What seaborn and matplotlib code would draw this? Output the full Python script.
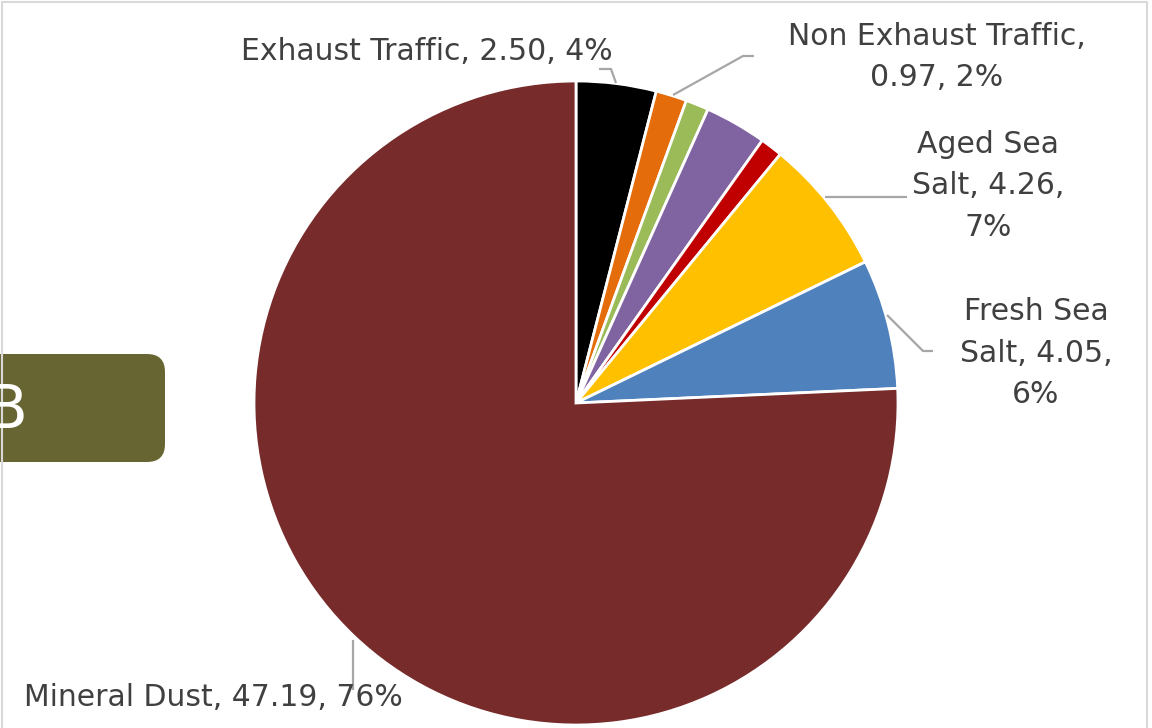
import matplotlib
matplotlib.use("Agg")
import matplotlib.pyplot as plt
import seaborn as sns
from matplotlib.patches import FancyBboxPatch

# Source contributions (mass, µg/m3)
sources = ["Exhaust Traffic", "Non Exhaust Traffic", "Road Dust",
           "Secondary Aerosols", "Industrial", "Aged Sea Salt",
           "Fresh Sea Salt", "Mineral Dust"]
mass = [2.50, 0.97, 0.72, 1.93, 0.70, 4.26, 4.05, 47.19]
colors = ["#000000", "#E46C0A", "#9BBB59", "#8064A2", "#C00000",
          "#FFC000", "#4F81BD", "#772B2B"]

sns.set_theme(style="white")
plt.rcParams["font.family"] = ["DejaVu Sans"]

W, H = 1152, 728
fig = plt.figure(figsize=(W / 100, H / 100), dpi=100)
ax = fig.add_axes([0, 0, 1, 1])


def P(x, y):
    """Pixel position (origin top-left) -> data coordinates."""
    return x, H - y


ax.pie(mass, colors=colors, startangle=90, counterclock=False,
       center=P(576, 403), radius=322, frame=False,
       wedgeprops=dict(edgecolor="white", linewidth=2))
ax.set_xlim(0, W)
ax.set_ylim(0, H)
ax.set_aspect("equal")
ax.axis("off")

total = sum(mass)
val = dict(zip(sources, mass))


def lab(name):
    return f"{val[name]:.2f}", f"{100 * val[name] / total:.0f}%"


txt_color = "#404040"
fs = 21.5
ls = 1.55
lead = dict(color="#A6A6A6", lw=1.6, solid_capstyle="butt")

# Exhaust Traffic
v, p = lab("Exhaust Traffic")
ax.text(*P(427, 51), f"Exhaust Traffic, {v}, {p}", ha="center", va="center",
        color=txt_color, fontsize=fs)
ax.plot(*zip(P(599, 69), P(611, 69), P(616, 83)), **lead)

# Non Exhaust Traffic
v, p = lab("Non Exhaust Traffic")
ax.text(*P(937, 57), f"Non Exhaust Traffic,\n{v}, {p}", ha="center",
        va="center", color=txt_color, fontsize=fs, linespacing=ls)
ax.plot(*zip(P(673, 95), P(743, 56), P(754, 56)), **lead)

# Aged Sea Salt
v, p = lab("Aged Sea Salt")
ax.text(*P(988, 186), f"Aged Sea\nSalt, {v},\n{p}", ha="center",
        va="center", color=txt_color, fontsize=fs, linespacing=ls)
ax.plot(*zip(P(825, 197), P(907, 197)), **lead)

# Fresh Sea Salt
v, p = lab("Fresh Sea Salt")
ax.text(*P(1036, 353), f"Fresh Sea\nSalt, {v},\n{p}", ha="center",
        va="center", color=txt_color, fontsize=fs, linespacing=ls)
ax.plot(*zip(P(887, 315), P(923, 351), P(933, 351)), **lead)

# Mineral Dust
v, p = lab("Mineral Dust")
ax.text(*P(213, 697), f"Mineral Dust, {v}, {p}", ha="center",
        va="center", color=txt_color, fontsize=fs)
ax.plot(*zip(P(353, 640), P(353, 690)), **lead)

# Panel tag
x0, y0 = P(-60, 462)
ax.add_patch(FancyBboxPatch((x0, y0), 225, 108,
                            boxstyle="round,pad=0,rounding_size=18",
                            facecolor="#676633", edgecolor="none",
                            clip_on=False))
ax.text(*P(7, 411), "B", ha="center", va="center", color="white",
        fontsize=44)

# Chart border
border = dict(color="#D9D9D9", lw=1.5)
ax.plot(*zip(P(2, H), P(2, 2), P(1147, 2), P(1147, H)), **border)

fig.savefig("out.png", dpi=100)
